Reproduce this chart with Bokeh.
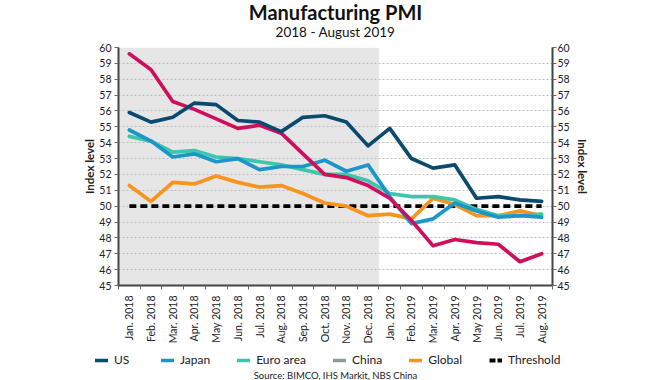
import numpy as np
from bokeh.plotting import figure
from bokeh.layouts import column
from bokeh.models import (LinearAxis, FixedTicker, Range1d, Legend, LegendItem, Label)
from bokeh.embed import file_html
from bokeh.resources import INLINE

months = ["Jan. 2018", "Feb. 2018", "Mar. 2018", "Apr. 2018", "May 2018", "Jun. 2018",
          "Jul. 2018", "Aug. 2018", "Sep. 2018", "Oct. 2018", "Nov. 2018", "Dec. 2018",
          "Jan. 2019", "Feb. 2019", "Mar. 2019", "Apr. 2019", "May 2019", "Jun. 2019",
          "Jul. 2019", "Aug. 2019"]
shaded_months = 12  # 2018 shaded

us = [55.9, 55.3, 55.6, 56.5, 56.4, 55.4, 55.3, 54.7, 55.6, 55.7, 55.3, 53.8,
      54.9, 53.0, 52.4, 52.6, 50.5, 50.6, 50.4, 50.3]
japan = [54.8, 54.1, 53.1, 53.3, 52.8, 53.0, 52.3, 52.5, 52.5, 52.9, 52.2, 52.6,
         50.6, 48.9, 49.2, 50.2, 49.7, 49.3, 49.4, 49.3]
euro_area = [54.4, 54.1, 53.4, 53.5, 53.1, 53.0, 52.8, 52.6, 52.3, 52.0, 52.0, 51.6,
             50.8, 50.6, 50.6, 50.4, 49.8, 49.4, 49.4, 49.5]
global_pmi = [51.3, 50.3, 51.5, 51.4, 51.9, 51.5, 51.2, 51.3, 50.8, 50.2, 50.0, 49.4,
              49.5, 49.2, 50.5, 50.1, 49.4, 49.4, 49.7, 49.4]
china = [59.6, 58.6, 56.6, 56.1, 55.5, 54.9, 55.1, 54.6, 53.3, 52.0, 51.8, 51.3,
         50.5, 49.1, 47.5, 47.9, 47.7, 47.6, 46.5, 47.0]
threshold = [50.0] * len(months)

legend_labels = ["US", "Japan", "Euro area", "China", "Global", "Threshold"]
legend_colors = ["#0b4a6f", "#1a96c8", "#3ec5ad", "#8e9a9a", "#f7941d", "black"]

y_ticks = list(range(45, 61))

FONT = "Lato"
TXT = "#222222"
W = 3.7

x = [i + 0.5 for i in range(len(months))]


def strip(h):
    f = figure(width=670, height=h, output_backend="svg", toolbar_location=None,
               x_range=Range1d(0, 1), y_range=Range1d(0, 1),
               x_axis_location=None, y_axis_location=None,
               min_border=0, min_border_left=0, min_border_right=0,
               min_border_top=0, min_border_bottom=0, title=None)
    f.outline_line_color = None
    f.xgrid.visible = False
    f.ygrid.visible = False
    return f


# ---- title strip
t = strip(40)
t.add_layout(Label(x=335, y=29, x_units="screen", y_units="screen",
                   text="Manufacturing PMI", text_align="center", text_baseline="middle",
                   text_font=FONT, text_font_style="bold", text_font_size="20px",
                   text_color="#111111"))
t.add_layout(Label(x=335, y=9, x_units="screen", y_units="screen",
                   text="2018 - August 2019", text_align="center", text_baseline="middle",
                   text_font=FONT, text_font_size="13.5px", text_color="#111111"))

# ---- main chart
p = figure(width=670, height=306, output_backend="svg", toolbar_location=None,
           x_range=Range1d(0, len(months)), y_range=Range1d(y_ticks[0], y_ticks[-1]),
           min_border_left=118, min_border_right=118, min_border_top=7,
           min_border_bottom=58, title=None)
p.outline_line_color = None
p.background_fill_color = "white"

p.quad(left=[0], right=[shaded_months], bottom=[y_ticks[0]], top=[y_ticks[-1]],
       fill_color="#e6e6e6", line_color=None, level="image")

p.xgrid.grid_line_color = None
p.ygrid.ticker = FixedTicker(ticks=y_ticks)
p.ygrid.grid_line_color = "#bdbdbd"
p.ygrid.grid_line_dash = "2 2"
p.ygrid.grid_line_width = 1.2

p.line(x, threshold, line_color="black", line_width=W, line_dash="7 4")
for series, col in ((global_pmi, "#f7941d"), (euro_area, "#3ec5ad"), (japan, "#1a96c8"),
                    (china, "#cf0f5b"), (us, "#0b4a6f")):
    p.line(x, series, line_color=col, line_width=W, line_cap="round", line_join="round")


def style_y(ax, label_standoff, tick_standoff):
    ax.ticker = FixedTicker(ticks=y_ticks)
    ax.axis_label = "Index level"
    ax.axis_label_text_font = FONT
    ax.axis_label_text_font_style = "bold"
    ax.axis_label_text_font_size = "11.5px"
    ax.axis_label_text_color = TXT
    ax.axis_label_standoff = label_standoff
    ax.major_label_text_font = FONT
    ax.major_label_text_font_size = "10.5px"
    ax.major_label_text_color = TXT
    ax.major_label_standoff = tick_standoff
    ax.axis_line_color = "#444444"
    ax.axis_line_width = 2
    ax.major_tick_line_color = "#666666"
    ax.major_tick_in = 0
    ax.major_tick_out = 4
    ax.minor_tick_line_color = None


style_y(p.yaxis[0], 0, 3)
ry = LinearAxis()
style_y(ry, 3, 1)
p.add_layout(ry, "right")

xa = p.xaxis[0]
xa.ticker = FixedTicker(ticks=x, minor_ticks=list(range(len(months) + 1)))
xa.major_label_overrides = {xi: m for xi, m in zip(x, months)}
xa.major_label_orientation = np.pi / 2
xa.major_label_text_font = FONT
xa.major_label_text_font_size = "10.5px"
xa.major_label_text_color = TXT
xa.major_label_standoff = 4
xa.major_tick_line_color = None
xa.minor_tick_line_color = "#666666"
xa.minor_tick_in = 0
xa.minor_tick_out = 4
xa.axis_line_color = "#444444"
xa.axis_line_width = 2

# ---- legend + source strip
q = strip(34)

items = []
for lab, col in zip(legend_labels, legend_colors):
    if lab == "Threshold":
        r = q.line([0.5], [np.nan], line_color=col, line_width=W + 0.4, line_dash="6 2")
    else:
        r = q.line([0.5], [np.nan], line_color=col, line_width=W, line_cap="round")
    items.append(LegendItem(label=lab, renderers=[r]))

lg = Legend(items=items, location=(95, 13), orientation="horizontal",
            glyph_width=13, glyph_height=14, label_height=14, label_standoff=6,
            spacing=27, padding=0, margin=0, border_line_color=None,
            background_fill_alpha=0, label_text_font=FONT,
            label_text_font_size="12px", label_text_color=TXT)
q.add_layout(lg, "center")

q.add_layout(Label(x=335, y=5, x_units="screen", y_units="screen",
                   text="Source: BIMCO, IHS Markit, NBS China", text_align="center",
                   text_baseline="middle", text_font=FONT, text_font_size="9.5px",
                   text_color=TXT))

for fig in (t, p, q):
    try:
        fig.frame_align = False
    except Exception:
        pass

layout = column(t, p, q, spacing=0)
open("out.html", "w").write(file_html(layout, INLINE))
